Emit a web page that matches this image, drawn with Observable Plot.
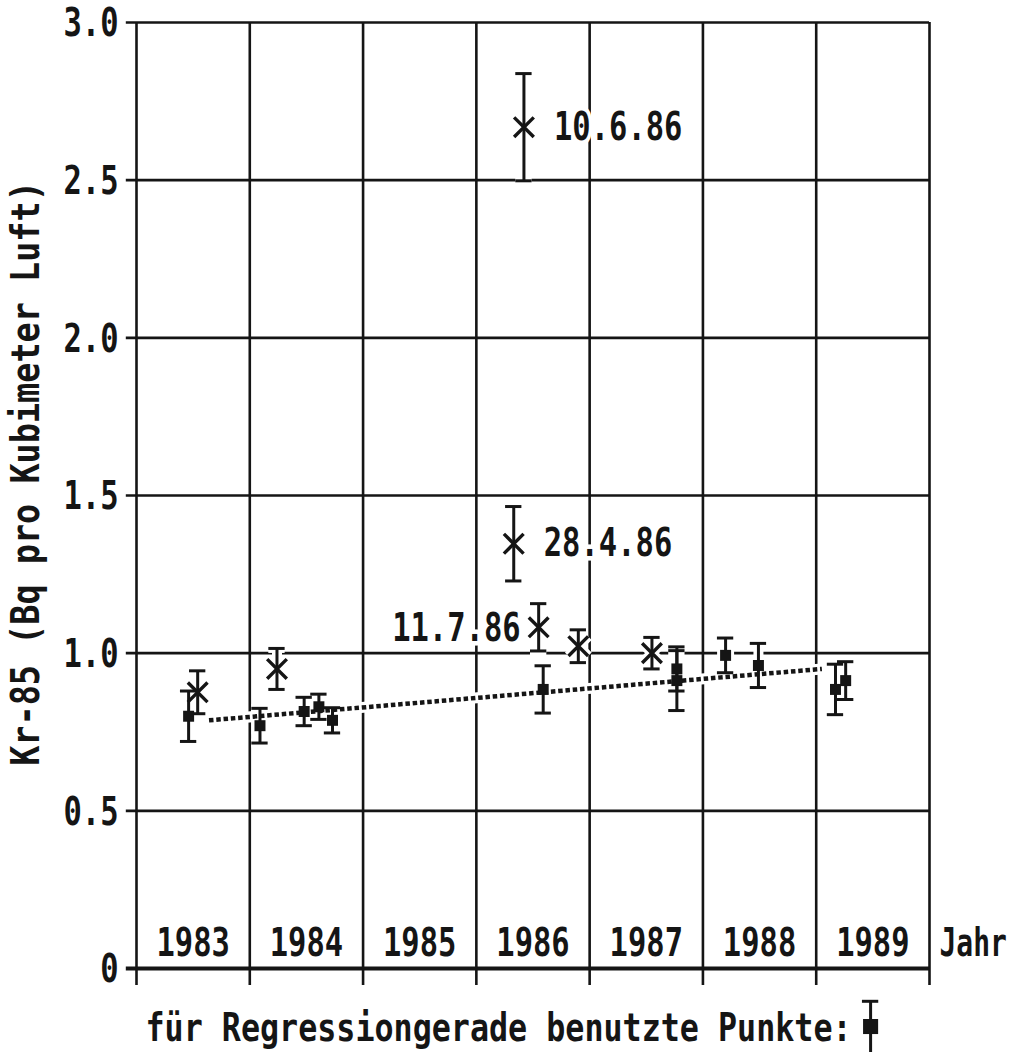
<!DOCTYPE html>
<html>
<head>
<meta charset="utf-8">
<script src="https://cdn.jsdelivr.net/npm/d3@7"></script>
<script src="https://cdn.jsdelivr.net/npm/@observablehq/plot@0.6"></script>
<style>
  html, body { margin: 0; padding: 0; background: #fff; }
  #chart { width: 1016px; height: 1052px; }
</style>
</head>
<body>
<div id="chart"></div>
<script>
// ---- data ----
const years = [1983, 1984, 1985, 1986, 1987, 1988, 1989, 1990];
const yearLabels = ["1983", "1984", "1985", "1986", "1987", "1988", "1989"];
const yTicks = [0, 0.5, 1.0, 1.5, 2.0, 2.5, 3.0];
const yTickLabels = ["0", "0.5", "1.0", "1.5", "2.0", "2.5", "3.0"];

// points used for the regression line (filled squares)
const regX   = [1983.46, 1984.09, 1984.48, 1984.61, 1984.73, 1986.59, 1987.77, 1987.77, 1988.20, 1988.49, 1989.17, 1989.26];
const regY   = [0.800,   0.770,   0.815,   0.830,   0.787,   0.885,   0.950,   0.913,   0.993,   0.961,   0.885,   0.913];
const regErr = [0.080,   0.055,   0.045,   0.040,   0.040,   0.075,   0.070,   0.095,   0.055,   0.070,   0.080,   0.060];

// other measurements (x markers)
const othX   = [1983.54, 1984.24, 1986.42, 1986.33, 1986.55, 1986.90, 1987.55];
const othY   = [0.876,   0.950,   2.668,   1.347,   1.082,   1.022,   1.000];
const othErr = [0.068,   0.065,   0.170,   0.118,   0.075,   0.052,   0.050];

// date annotations
const annText   = ["10.6.86", "28.4.86", "11.7.86"];
const annX      = [1986.42,   1986.33,   1986.55];
const annY      = [2.668,     1.347,     1.078];
const annSide   = ["right",   "right",   "left"];

// regression line end points
const lineX = [1983.64, 1989.05];
const lineY = [0.787, 0.950];

const caption = "für Regressiongerade benutzte Punkte:";
const yTitle = "Kr-85 (Bq pro Kubimeter Luft)";
const xTitle = "Jahr";

// legend sample (below the chart)
const legendX = [1989.48];
const legendY = [-0.184];
const legendErr = [0.08];

// ---- tables ----
const reg = regX.map((x, i) => ({x, y: regY[i], e: regErr[i]}));
const oth = othX.map((x, i) => ({x, y: othY[i], e: othErr[i]}));
const ann = annText.map((t, i) => ({t, x: annX[i], y: annY[i], side: annSide[i]}));
const regLine = lineX.map((x, i) => ({x, y: lineY[i]}));
const leg = legendX.map((x, i) => ({x, y: legendY[i], e: legendErr[i]}));
const allBars = reg.concat(oth);
const capW = 0.072;

const caps = (data, o) => [
  Plot.ruleY(data, {y: d => d.y + d.e, x1: d => d.x - capW, x2: d => d.x + capW, ...o}),
  Plot.ruleY(data, {y: d => d.y - d.e, x1: d => d.x - capW, x2: d => d.x + capW, ...o})
];

const ink = "#151515";
const fs = 30.5, fsTitle = 33.5, fsCap = 31.7, fsJahr = 28;

const chart = Plot.plot({
  width: 1016,
  height: 1052,
  marginLeft: 136,
  marginRight: 87,
  marginTop: 22,
  marginBottom: 84,
  x: {domain: [1983, 1990], axis: null},
  y: {domain: [0, 3], axis: null},
  style: {fontFamily: "'DejaVu Sans Mono', monospace", fontWeight: "bold", background: "#fff", color: ink},
  marks: [
    // grid
    Plot.ruleY(yTicks, {y: d => d, x1: 1982.91, x2: 1990, stroke: ink, strokeWidth: d => d === 0 ? 4 : 2.6}),
    Plot.ruleX(years, {x: d => d, y1: -0.054, y2: 3, stroke: ink, strokeWidth: 2.6}),

    // white halos (gaps in the grid around symbols)
    Plot.line(regLine, {x: "x", y: "y", stroke: "#fff", strokeWidth: 11}),
    Plot.ruleX(allBars.concat(leg), {x: "x", y1: d => d.y - d.e, y2: d => d.y + d.e, stroke: "#fff", strokeWidth: 10}),
    ...caps(allBars.concat(leg), {stroke: "#fff", strokeWidth: 9}),
    Plot.dot(oth, {x: "x", y: "y", symbol: "times", r: 9, stroke: "#fff", strokeWidth: 10}),
    Plot.dot(reg, {x: "x", y: "y", symbol: "square", r: 6.2, fill: "#fff", stroke: "#fff", strokeWidth: 6}),

    // regression line (dotted)
    Plot.line(regLine, {x: "x", y: "y", stroke: ink, strokeWidth: 4.5, strokeDasharray: "4.5,2.8", strokeLinecap: "butt"}),

    // error bars
    Plot.ruleX(allBars, {x: "x", y1: d => d.y - d.e, y2: d => d.y + d.e, stroke: ink, strokeWidth: 3}),
    ...caps(allBars, {stroke: ink, strokeWidth: 3}),

    // markers
    Plot.dot(oth, {x: "x", y: "y", symbol: "times", r: 9, stroke: ink, strokeWidth: 3.4}),
    Plot.dot(reg, {x: "x", y: "y", symbol: "square", r: 6.2, fill: ink, stroke: "none"}),

    // legend sample
    Plot.ruleX(leg, {x: "x", y1: d => d.y - 0.2, y2: d => d.y + d.e, stroke: ink, strokeWidth: 3}),
    Plot.ruleY(leg, {y: d => d.y + d.e, x1: d => d.x - capW, x2: d => d.x + capW, stroke: ink, strokeWidth: 3}),
    Plot.dot(leg, {x: "x", y: "y", symbol: "square", r: 8.5, fill: ink, stroke: "none"}),

    // annotations
    Plot.text(ann.filter(d => d.side === "right"), {x: "x", y: "y", text: "t", dx: 30, textAnchor: "start", lineAnchor: "middle", fontSize: fs, fill: ink, stroke: "#fff", strokeWidth: 7}),
    Plot.text(ann.filter(d => d.side === "left"), {x: "x", y: "y", text: "t", dx: -18, textAnchor: "end", lineAnchor: "middle", fontSize: fs, fill: ink, stroke: "#fff", strokeWidth: 7}),

    // y tick labels
    Plot.text(yTicks, {x: 1983, y: d => d, text: (d, i) => yTickLabels[i], dx: -18, dy: 1, textAnchor: "end", lineAnchor: "middle", fontSize: fs, fill: ink}),
    // year labels
    Plot.text(yearLabels, {x: (d, i) => years[i] + 0.5, y: 0.079, text: d => d, textAnchor: "middle", lineAnchor: "middle", fontSize: fs, fill: ink}),
    Plot.text([xTitle], {x: 1990, y: 0.079, text: d => d, dx: 10, textAnchor: "start", lineAnchor: "middle", fontSize: fsJahr, fill: ink}),
    // y title
    Plot.text([yTitle], {frameAnchor: "left", dx: -110, dy: -22, rotate: -90, text: d => d, textAnchor: "middle", lineAnchor: "middle", fontSize: fsTitle, fill: ink}),
    // caption
    Plot.text([caption], {frameAnchor: "bottom-left", dx: 9, dy: 60, text: d => d, textAnchor: "start", lineAnchor: "middle", fontSize: fsCap, fill: ink})
  ]
});

// tall, narrow bitmap-like lettering: stretch glyphs vertically to ~29px cap height
chart.querySelectorAll("text").forEach(t => {
  const s = t.textContent;
  let f = fs;
  if (s === yTitle) f = fsTitle;
  else if (s === caption) f = fsCap;
  else if (s === xTitle) f = fsJahr;
  const capH = s === yTitle || s === caption ? 28 : 29;
  const sy = (capH / (0.729 * f)).toFixed(3);
  const tr = t.getAttribute("transform") || "";
  t.setAttribute("transform", `${tr} scale(1,${sy})`.trim());
});

document.getElementById("chart").appendChild(chart);
</script>
</body>
</html>
